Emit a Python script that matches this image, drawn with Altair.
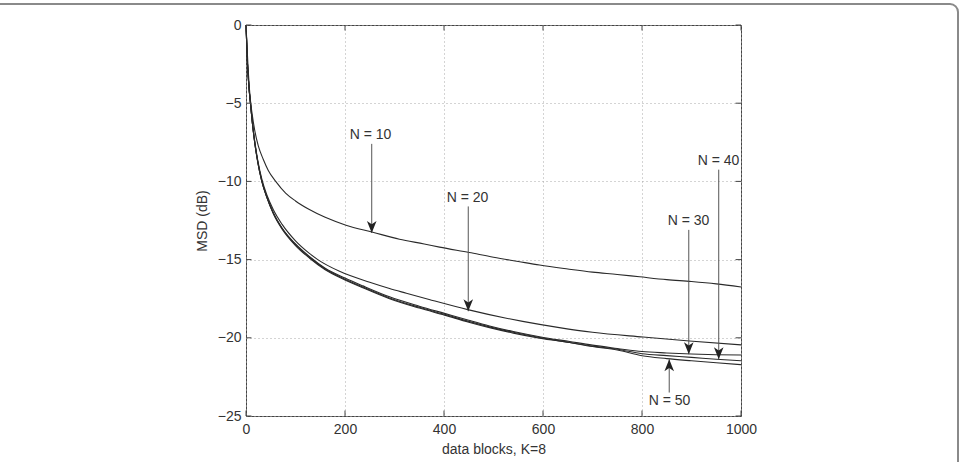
import altair as alt
import pandas as pd

# ---- data ----
n10_x = [0, 4, 8, 12, 18, 25, 35, 45, 60, 80, 100, 128, 160, 202, 256, 310, 360, 391, 451, 500, 550, 593, 650, 700, 750, 795, 850, 900, 950, 1000]
n10_y = [0, -2.6, -4.5, -5.6, -6.8, -7.75, -8.6, -9.3, -10.0, -10.75, -11.25, -11.8, -12.3, -12.8, -13.25, -13.7, -14.0, -14.2, -14.55, -14.85, -15.12, -15.35, -15.6, -15.8, -15.95, -16.1, -16.28, -16.4, -16.55, -16.75]

n20_x = [0, 3, 6, 9, 13, 18, 24, 32, 42, 55, 73, 100, 128, 145, 189, 250, 290, 324, 370, 448, 526, 559, 633, 700, 802, 896, 1000]
n20_y = [0, -2.5, -4.0, -5.0, -6.3, -7.5, -8.7, -9.85, -10.85, -11.8, -12.75, -13.8, -14.6, -15.0, -15.75, -16.45, -16.85, -17.15, -17.55, -18.2, -18.75, -18.95, -19.35, -19.65, -19.95, -20.2, -20.45]

bundle_x = [0, 3, 6, 9, 13, 18, 24, 32, 42, 55, 73, 100, 128, 160, 200, 236, 290, 350, 401, 450, 492, 540, 593, 654, 700, 750, 800, 850, 900, 950, 1000]
n30_y = [0, -2.5, -4.0, -5.0, -6.3, -7.6, -8.8, -10.0, -11.0, -12.0, -13.0, -14.0, -14.8, -15.55, -16.18, -16.68, -17.38, -17.98, -18.44, -18.88, -19.24, -19.6, -19.93, -20.24, -20.47, -20.68, -20.88, -20.97, -21.04, -21.08, -21.1]
n40_y = [0, -2.5, -4.0, -5.0, -6.3, -7.6, -8.8, -10.0, -11.0, -12.05, -13.05, -14.1, -14.9, -15.65, -16.3, -16.8, -17.5, -18.1, -18.55, -19.0, -19.35, -19.7, -20.02, -20.3, -20.53, -20.73, -21.02, -21.14, -21.25, -21.37, -21.47]
n50_y = [0, -2.5, -4.0, -5.0, -6.3, -7.6, -8.8, -10.0, -11.0, -12.0, -13.0, -14.05, -14.85, -15.6, -16.25, -16.75, -17.45, -18.05, -18.5, -18.95, -19.3, -19.65, -19.98, -20.3, -20.56, -20.78, -21.15, -21.33, -21.47, -21.6, -21.72]

# annotations: label, text position, arrow shaft start, arrow tip, direction
ann_label = ["N = 10", "N = 20", "N = 30", "N = 40", "N = 50"]
ann_text_x = [251.5, 447.5, 894, 954.5, 855.6]
ann_text_y = [-7.02, -11.03, -12.56, -8.69, -24.07]
ann_arrow_x = [254, 449, 894.5, 955, 855]
ann_start_y = [-7.6, -11.6, -13.1, -9.25, -23.5]
ann_tip_y = [-13.3, -18.3, -21.05, -21.37, -21.37]
ann_dir = ["down", "down", "down", "down", "up"]

x_ticks = [0, 200, 400, 600, 800, 1000]
y_ticks = [-25, -20, -15, -10, -5, 0]

# ---- tables ----
rows = []
for name, xs, ys in [("N=10", n10_x, n10_y), ("N=20", n20_x, n20_y),
                     ("N=30", bundle_x, n30_y), ("N=40", bundle_x, n40_y),
                     ("N=50", bundle_x, n50_y)]:
    for xv, yv in zip(xs, ys):
        rows.append({"series": name, "x": xv, "y": yv})
curves = pd.DataFrame(rows)

ann = pd.DataFrame({"label": ann_label, "tx": ann_text_x, "ty": ann_text_y,
                    "ax": ann_arrow_x, "sy": ann_start_y, "ey": ann_tip_y,
                    "dir": ann_dir})

FONT = "Liberation Sans"
xscale = alt.Scale(domain=[0, 1000], nice=False, zero=False)
yscale = alt.Scale(domain=[-25, 0], nice=False, zero=False)

x_axis = alt.Axis(values=x_ticks, format="d", title="data blocks, K=8", grid=True, ticks=False,
                  domain=False, labelPadding=6, titlePadding=6, labelFlush=False)
y_axis = alt.Axis(values=y_ticks, format="d", title="MSD (dB)", grid=True, ticks=False,
                  domain=False, labelPadding=5, titlePadding=8, labelFlush=False)

lines = alt.Chart(curves).mark_line(color="#2a2a2a", strokeWidth=1.1, interpolate="monotone").encode(
    x=alt.X("x:Q", scale=xscale, axis=x_axis),
    y=alt.Y("y:Q", scale=yscale, axis=y_axis),
    detail="series:N",
)

shafts = alt.Chart(ann).mark_rule(color="#555555", strokeWidth=1).encode(
    x="ax:Q", y="sy:Q", y2="ey:Q"
)

down_path = "M0,0 L-0.8,-2 L0,-1.45 L0.8,-2 Z"
up_path = "M0,0 L-0.8,2 L0,1.45 L0.8,2 Z"
heads_down = alt.Chart(ann).transform_filter(alt.datum.dir == "down").mark_point(
    shape=down_path, filled=True, color="#222222", size=144, opacity=1
).encode(x="ax:Q", y="ey:Q")
heads_up = alt.Chart(ann).transform_filter(alt.datum.dir == "up").mark_point(
    shape=up_path, filled=True, color="#222222", size=144, opacity=1
).encode(x="ax:Q", y="ey:Q")

labels = alt.Chart(ann).mark_text(font=FONT, fontSize=14, color="#333333",
                                  align="center", baseline="middle").encode(
    x="tx:Q", y="ty:Q", text="label:N"
)

# inward tick marks on all four sides (MATLAB box style)
tick_df_x = pd.DataFrame({"t": x_ticks})
tick_df_y = pd.DataFrame({"t": y_ticks})
ticks_bottom = alt.Chart(tick_df_x).mark_rule(color="#444444").encode(
    x="t:Q", y=alt.datum(-25), y2=alt.datum(-24.65))
ticks_top = alt.Chart(tick_df_x).mark_rule(color="#444444").encode(
    x="t:Q", y=alt.datum(0), y2=alt.datum(-0.35))
ticks_left = alt.Chart(tick_df_y).mark_rule(color="#444444").encode(
    y="t:Q", x=alt.datum(0), x2=alt.datum(11))
ticks_right = alt.Chart(tick_df_y).mark_rule(color="#444444").encode(
    y="t:Q", x=alt.datum(1000), x2=alt.datum(989))

frame = alt.Chart(pd.DataFrame({"a": [0]})).mark_rect(
    fillOpacity=0, stroke="#8a8a8a", strokeWidth=2, cornerRadius=8
).encode(x=alt.value(-270), x2=alt.value(712), y=alt.value(-21), y2=alt.value(470))

chart = alt.layer(
    frame, lines, ticks_bottom, ticks_top, ticks_left, ticks_right,
    shafts, heads_down, heads_up, labels
).properties(
    width=495, height=391,
    autosize="none",
    padding={"left": 246, "top": 25, "right": 219, "bottom": 46},
    background="white",
).configure_view(
    stroke="#444444", strokeWidth=1
).configure_axis(
    labelFont=FONT, titleFont=FONT, labelFontSize=14, titleFontSize=14,
    labelColor="#333333", titleColor="#333333", titleFontWeight="normal",
    gridColor="#a8a8a8", gridDash=[1, 3], gridWidth=1, gridOpacity=1,
)

chart.save("out.html", embed_options={"renderer": "svg", "actions": False})
